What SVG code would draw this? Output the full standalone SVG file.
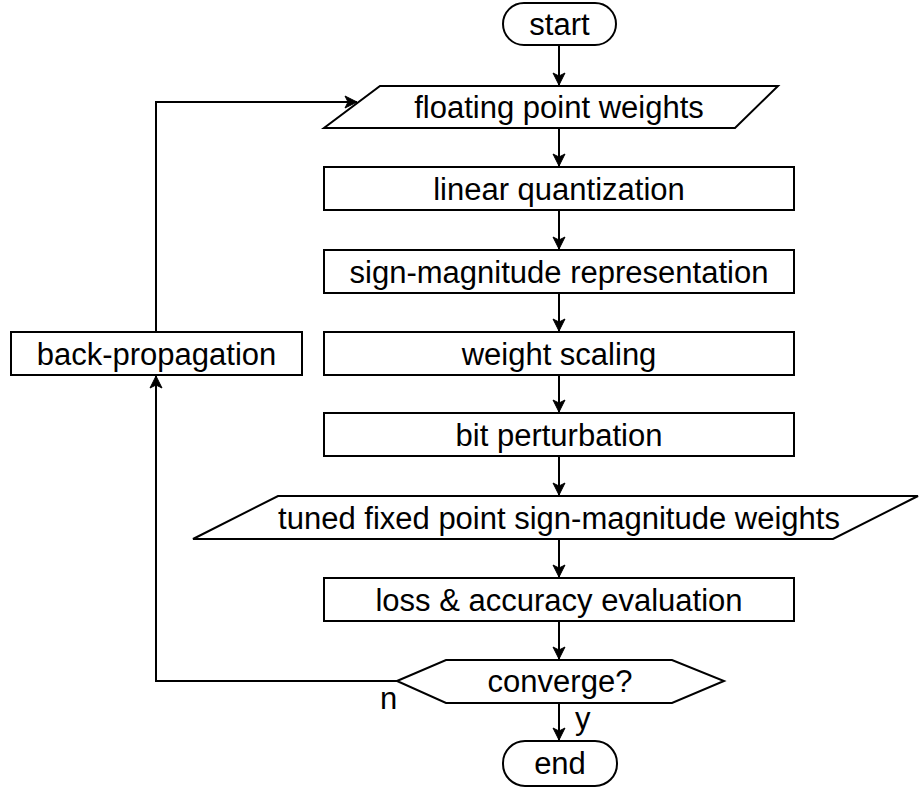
<svg xmlns="http://www.w3.org/2000/svg" width="920" height="788" viewBox="0 0 920 788">
<style>
.s{fill:#fff;stroke:#000;stroke-width:2}
.t{font-family:"Liberation Sans",Arial,sans-serif;font-size:31px;fill:#000;text-anchor:middle}
.l{font-family:"Liberation Sans",Arial,sans-serif;font-size:31px;fill:#000}
.c{fill:none;stroke:#000;stroke-width:2}
</style>
<defs>
<marker id="a" markerUnits="userSpaceOnUse" markerWidth="14" markerHeight="14" viewBox="0 0 14 14" refX="13" refY="7" orient="auto">
<path d="M1,1 L13,7 L1,13 L4,7 Z" fill="#000" stroke="#000" stroke-width="1"/>
</marker>
</defs>
<rect width="920" height="788" fill="#fff"/>
<g id="connectors">
<line class="c" x1="559" y1="45" x2="559" y2="85" marker-end="url(#a)"/>
<line class="c" x1="559" y1="128" x2="559" y2="166" marker-end="url(#a)"/>
<line class="c" x1="559" y1="210" x2="559" y2="249" marker-end="url(#a)"/>
<line class="c" x1="559" y1="293" x2="559" y2="331" marker-end="url(#a)"/>
<line class="c" x1="559" y1="375" x2="559" y2="412" marker-end="url(#a)"/>
<line class="c" x1="559" y1="456" x2="559" y2="495" marker-end="url(#a)"/>
<line class="c" x1="559" y1="539" x2="559" y2="577" marker-end="url(#a)"/>
<line class="c" x1="559" y1="621" x2="559" y2="659" marker-end="url(#a)"/>
<line class="c" x1="559" y1="703" x2="559" y2="740" marker-end="url(#a)"/>
<polyline class="c" points="397,681 156,681 156,376" marker-end="url(#a)"/>
<polyline class="c" points="156,332 156,102 357,102" marker-end="url(#a)"/>
<text class="l" x="380" y="709">n</text>
<text class="l" x="575" y="729">y</text>
</g>
<g id="start">
<rect class="s" x="503" y="3" width="113" height="42" rx="21" ry="21"/>
<text class="t" x="559.5" y="35">start</text>
</g>
<g id="floating">
<polygon class="s" points="380,86 778,86 735,128 324,128"/>
<text class="t" x="559" y="118">floating point weights</text>
</g>
<g id="linear">
<rect class="s" x="324" y="167" width="470" height="43"/>
<text class="t" x="559" y="200">linear quantization</text>
</g>
<g id="signmag">
<rect class="s" x="324" y="250" width="470" height="43"/>
<text class="t" x="559" y="283">sign-magnitude representation</text>
</g>
<g id="scaling">
<rect class="s" x="324" y="332" width="470" height="43"/>
<text class="t" x="559" y="365">weight scaling</text>
</g>
<g id="perturb">
<rect class="s" x="324" y="413" width="470" height="43"/>
<text class="t" x="559" y="446">bit perturbation</text>
</g>
<g id="tuned">
<polygon class="s" points="278,496 918,496 833,539 193,539"/>
<text class="t" x="559" y="529">tuned fixed point sign-magnitude weights</text>
</g>
<g id="loss">
<rect class="s" x="324" y="578" width="470" height="43"/>
<text class="t" x="559" y="611">loss &amp; accuracy evaluation</text>
</g>
<g id="converge">
<polygon class="s" points="397,681 446,660 672,660 724,681 672,703 446,703"/>
<text class="t" x="560" y="692">converge?</text>
</g>
<g id="end">
<rect class="s" x="503" y="741" width="114" height="45" rx="22" ry="22"/>
<text class="t" x="560" y="774">end</text>
</g>
<g id="backprop">
<rect class="s" x="11" y="332" width="291" height="43"/>
<text class="t" x="156.5" y="365">back-propagation</text>
</g>
</svg>
